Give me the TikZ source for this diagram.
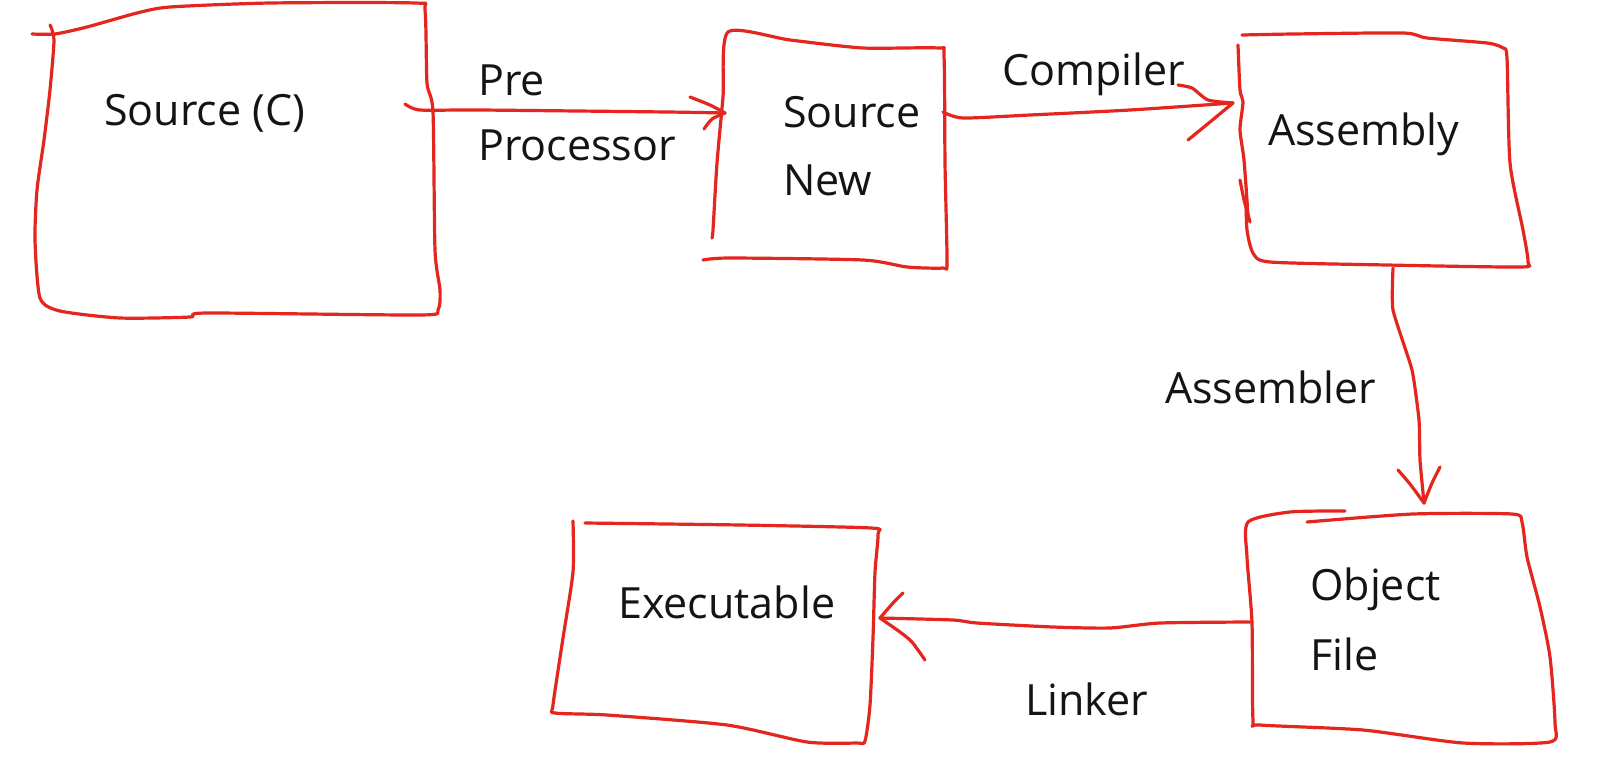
\documentclass[tikz,border=0pt]{standalone}
\usepackage{fontspec}
\setmainfont{Open Sans}
\definecolor{pen}{RGB}{228,38,30}
\definecolor{ink}{RGB}{20,20,20}
\tikzset{
  pen/.style={draw=pen, line width=3.2pt, line cap=round, line join=round},
  lbl/.style={anchor=base west, inner sep=0pt, text=ink, font=\fontsize{43}{50}\selectfont},
  area/.style={draw=none, inner sep=0pt, rectangle},
}
\begin{document}
\begin{tikzpicture}[x=1pt,y=-1pt]
\useasboundingbox[fill=white] (0,0) rectangle (1599,780);

% invisible box areas
\node[area, minimum width=400pt, minimum height=312pt] (src) at (236,160) {};
\node[area, minimum width=230pt, minimum height=230pt] (srcnew) at (830,150) {};
\node[area, minimum width=285pt, minimum height=230pt] (asm) at (1383,150) {};
\node[area, minimum width=305pt, minimum height=225pt] (obj) at (1400,628) {};
\node[area, minimum width=320pt, minimum height=220pt] (exe) at (715,632) {};

% hand-drawn outlines
\draw[pen] plot[smooth, tension=0.4] coordinates {(32,34) (55,34) (87,27) (137,13) (170,7) (270,3) (415,3) (425,10) (427,83) (433,112) (435,250) (440,290) (438,310) (420,315) (207,313) (190,317) (120,318) (60,311) (40,298) (35,240) (37,190) (44,140) (50,90) (54,40) (50,25)};
\draw[pen] plot[smooth, tension=0.4] coordinates {(712,238) (713,230) (717,163) (723,97) (728,32) (790,40) (863,48) (938,48) (944,56) (945,163) (947,262) (943,268) (907,267) (863,260) (730,258) (703,260)};
\draw[pen] plot[smooth, tension=0.4] coordinates {(1242,35) (1293,34) (1403,33) (1427,38) (1487,43) (1503,48) (1507,58) (1510,163) (1523,230) (1528,262) (1520,267) (1387,265) (1270,262) (1253,253) (1247,230) (1246,200)};
\draw[pen] plot[smooth, tension=0.4] coordinates {(1238,45) (1240,90) (1243,102) (1240,130) (1244,160) (1248,215)};
\draw[pen] plot[smooth, tension=0.4] coordinates {(1240,180) (1244,200) (1250,222)};
\draw[pen] plot[smooth, tension=0.4] coordinates {(1345,511) (1290,512) (1248,522) (1247,557) (1252,623) (1253,720) (1260,725) (1363,730) (1463,743) (1550,742) (1555,723) (1550,657) (1540,607) (1527,557) (1522,522) (1512,514) (1413,514) (1307,522)};
\draw[pen] plot[smooth, tension=0.4] coordinates {(585,523) (740,525) (871,528) (878,534) (875,572) (873,638) (870,705) (865,741) (857,743) (807,742) (727,725) (607,715) (555,713) (553,705) (563,638) (573,572) (573,521)};

% connector end points
\coordinate (ppA) at (405,104);
\coordinate (ppB) at (725,113);
\coordinate (coA) at (943,112);
\coordinate (coB) at (1233,103);
\coordinate (asA) at (1393,268);
\coordinate (asB) at (1424,503);
\coordinate (liA) at (1250,622);
\coordinate (liB) at (880,618);

% connectors with hand-drawn heads
\draw[pen] plot[smooth, tension=0.4] coordinates {(ppA) (420,110) (480,110) (667,112) (ppB)};
\draw[pen] plot[smooth, tension=0.4] coordinates {(690,97) (710,105) (ppB)};
\draw[pen] plot[smooth, tension=0.4] coordinates {(ppB) (712,119) (704,129)};

\draw[pen] plot[smooth, tension=0.4] coordinates {(coA) (963,118) (1030,115) (1130,110) (coB)};
\draw[pen] plot[smooth, tension=0.4] coordinates {(1178,85) (1192,88) (1208,100) (coB)};
\draw[pen] plot[smooth, tension=0.4] coordinates {(coB) (1210,122) (1188,140)};

\draw[pen] plot[smooth, tension=0.3] coordinates {(asA) (1393,310) (1412,370) (1419,420) (1420,460) (asB)};
\draw[pen] plot[smooth, tension=0.4] coordinates {(1398,470) (1410,484) (asB)};
\draw[pen] plot[smooth, tension=0.4] coordinates {(asB) (1432,483) (1440,467)};

\draw[pen] plot[smooth, tension=0.4] coordinates {(liA) (1160,623) (1110,628) (1053,627) (977,623) (953,620) (liB)};
\draw[pen] plot[smooth, tension=0.4] coordinates {(903,593) (893,603) (liB)};
\draw[pen] plot[smooth, tension=0.4] coordinates {(liB) (900,632) (912,642) (925,660)};

% labels
\node[lbl] (tsrc) at (104,125) {Source (C)};
\node[lbl] (tpre) at (478,95) {Pre};
\node[lbl] (tproc) at (478,160) {Processor};
\node[lbl] (tsn1) at (783,127) {Source};
\node[lbl] (tsn2) at (783,195) {New};
\node[lbl] (tcomp) at (1002,85) {Compiler};
\node[lbl] (tasm) at (1268,145) {Assembly};
\node[lbl] (tasmr) at (1165,403) {Assembler};
\node[lbl] (tobj1) at (1310,600) {Object};
\node[lbl] (tobj2) at (1310,670) {File};
\node[lbl] (texe) at (618,618) {Executable};
\node[lbl] (tlink) at (1025,715) {Linker};
\end{tikzpicture}
\end{document}
